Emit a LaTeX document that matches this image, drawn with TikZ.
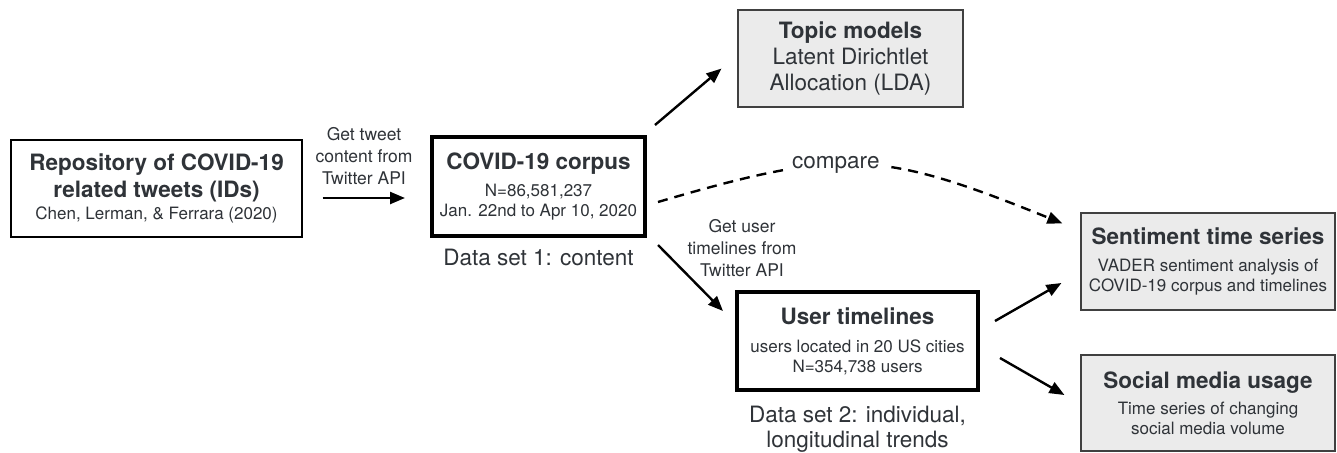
\documentclass[tikz,border=0pt]{standalone}
\usepackage{fontspec}
\setmainfont{TeX Gyre Heros}
\usetikzlibrary{positioning, arrows.meta}

\definecolor{textgray}{HTML}{2F3338}
\definecolor{boxgray}{HTML}{EBEBEB}

\newcommand{\bigsize}{\fontsize{22.5}{27}\selectfont}
\newcommand{\smallsize}{\fontsize{17}{20}\selectfont}
\newcommand{\edgesize}{\fontsize{17.5}{22}\selectfont}

\begin{document}
\begin{tikzpicture}[
    x=1pt, y=-1pt,
    thinbox/.style={draw=black, line width=1.2pt, fill=white, align=center, text=textgray, inner sep=0pt, font=\bigsize},
    thickbox/.style={draw=black, line width=4pt, fill=white, align=center, text=textgray, inner sep=0pt, font=\bigsize},
    graybox/.style={draw=black!75, line width=1.2pt, fill=boxgray, align=center, text=textgray, inner sep=0pt, font=\bigsize},
    setlabel/.style={align=center, text=textgray, font=\bigsize, inner sep=0pt},
    edgelabel/.style={align=center, text=textgray, font=\edgesize, inner sep=0pt},
    arrow/.style={-{Triangle[length=15pt, width=12pt]}, line width=2.4pt},
  ]

  \useasboundingbox (0,0) rectangle (1337,452);

  % boxes
  \node[thinbox, minimum width=291pt, minimum height=97pt] (repo) at (156.5,188.5)
    {\bfseries Repository of COVID-19\\\bfseries related tweets (IDs)\\[-5pt]\smallsize Chen, Lerman, \& Ferrara (2020)};

  \node[thickbox, minimum width=213pt, minimum height=99pt] (corpus) at (538.5,186.5)
    {\bfseries COVID-19 corpus\\\smallsize N=86,581,237\\[-7pt]\smallsize Jan. 22nd to Apr 10, 2020};
  \node[setlabel, below=11pt of corpus] (ds1) {Data set 1: content};

  \node[graybox, minimum width=225pt, minimum height=97pt] (topic) at (850.5,58.5)
    {\bfseries Topic models\\[-1pt]Latent Dirichtlet\\[-1pt]Allocation (LDA)};

  \node[thickbox, minimum width=241pt, minimum height=98pt] (user) at (857.5,341)
    {\bfseries User timelines\\[1pt]\smallsize users located in 20 US cities\\[-7pt]\smallsize N=354,738 users};
  \node[setlabel, below=14pt of user] (ds2) {Data set 2: individual,\\[-2pt]longitudinal trends};

  \node[graybox, minimum width=254pt, minimum height=97pt] (sentiment) at (1208,261.5)
    {\bfseries Sentiment time series\\\smallsize VADER sentiment analysis of\\[-7pt]\smallsize COVID-19 corpus and timelines};

  \node[graybox, minimum width=254pt, minimum height=96pt] (usage) at (1208,403)
    {\bfseries Social media usage\\[-1pt]\smallsize Time series of changing\\[-7pt]\smallsize social media volume};

  % connectors
  \draw[arrow] ([shift={(20,9.5)}]repo.east) -- ([shift={(-25,11.5)}]corpus.west);
  \node[edgelabel] (gettweets) at (364,156) {Get tweet\\content from\\Twitter API};

  \draw[arrow] ([shift={(8,-10)}]corpus.north east) -- ([shift={(-16,-39)}]topic.south west);

  \draw[arrow] ([shift={(11,7)}]corpus.south east) -- ([shift={(-12,21)}]user.north west);
  \node[edgelabel] (getusers) at (742,248) {Get user\\timelines from\\Twitter API};

  \draw[arrow, dash pattern=on 10pt off 7pt] ([shift={(11,15.5)}]corpus.east)
    .. controls +(187,-55) and +(-181,-73) .. ([shift={(-18,11)}]sentiment.north west)
    node[pos=0.42, fill=white, inner xsep=6pt, inner ysep=1pt, text=textgray, font=\bigsize] (compare) {compare};

  \draw[arrow] ([shift={(15,-20)}]user.east) -- ([shift={(-19,21.5)}]sentiment.west);
  \draw[arrow] ([shift={(20,17)}]user.east) -- ([shift={(-16,-8)}]usage.west);
\end{tikzpicture}
\end{document}
